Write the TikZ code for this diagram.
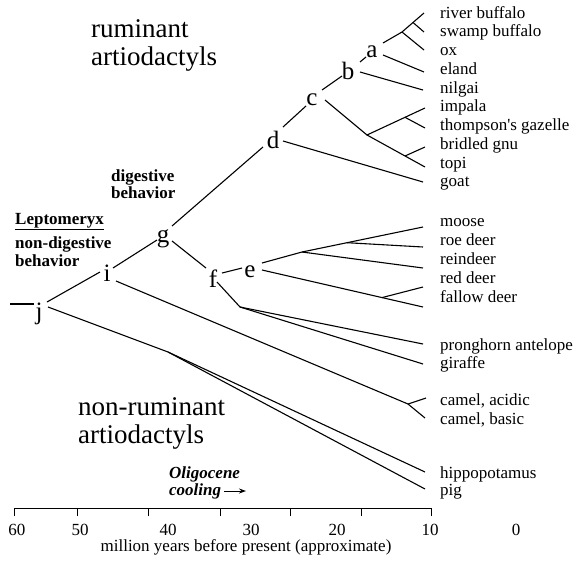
\documentclass[tikz,border=0pt]{standalone}
\usepackage{fontspec}
\setmainfont{Liberation Serif}
\usetikzlibrary{arrows.meta}
\begin{document}
\begin{tikzpicture}[x=1pt,y=-1pt,
  br/.style={line width=1.1pt},
  taxon/.style={anchor=base west, inner sep=0pt, font=\fontsize{17}{19}\selectfont},
  letter/.style={anchor=base, inner sep=0pt, font=\fontsize{25}{27}\selectfont},
  bigtext/.style={anchor=base west, inner sep=0pt, font=\fontsize{27}{29}\selectfont},
  boldnote/.style={anchor=base west, inner sep=0pt, font=\fontsize{17}{19}\selectfont\bfseries},
  ticklab/.style={anchor=base, inner sep=0pt, font=\fontsize{17}{19}\selectfont}]
\fill[white] (0,0) rectangle (584,560);
\useasboundingbox (0,0) rectangle (584,560);

% letters
\node[letter] (j) at (39,319) {j};
\node[letter] (i) at (107,281) {i};
\node[letter] (g) at (163,242) {g};
\node[letter] (f) at (213,287) {f};
\node[letter] (e) at (250,277) {e};
\node[letter] (d) at (273,148) {d};
\node[letter] (c) at (312,105) {c};
\node[letter] (b) at (348,79) {b};
\node[letter] (a) at (372,57) {a};

% junction coordinates
\coordinate (j0) at (10,304); \coordinate (j1) at (34,304);
\coordinate (jU) at (47,302); \coordinate (iL) at (100,272);
\coordinate (jD) at (48,307); \coordinate (hp) at (168,352);
\coordinate (hipT) at (425,472); \coordinate (pigT) at (425,489);
\coordinate (iU) at (113,268); \coordinate (gL) at (157,240);
\coordinate (iD) at (116,281); \coordinate (cm) at (408,404);
\coordinate (caT) at (426,398); \coordinate (cbT) at (425,418);
\coordinate (gU) at (172,226); \coordinate (dL) at (263,147);
\coordinate (gD) at (172,241); \coordinate (fL) at (206,268);
\coordinate (dU) at (283,127); \coordinate (cL) at (306,106);
\coordinate (dD) at (283,141); \coordinate (goatT) at (423,182);
\coordinate (cU) at (322,90); \coordinate (bL) at (342,76);
\coordinate (cD) at (325,100); \coordinate (cg) at (367,135);
\coordinate (it) at (405,117.3); \coordinate (impT) at (425,108); \coordinate (thoT) at (425,128);
\coordinate (bt) at (405,156); \coordinate (topT) at (425,167); \coordinate (brgT) at (425,147);
\coordinate (bU) at (360,62); \coordinate (aL) at (366,57);
\coordinate (bD) at (360,72); \coordinate (nilT) at (423,90);
\coordinate (aU) at (383,43); \coordinate (a1) at (402,32); \coordinate (a2) at (413,22.5);
\coordinate (rbT) at (424,13); \coordinate (sbT) at (424,32); \coordinate (oxT) at (424,50);
\coordinate (aD) at (383,55); \coordinate (elT) at (424,72);
\coordinate (fR) at (222,273); \coordinate (eL) at (242,268);
\coordinate (eU) at (262,263); \coordinate (n1) at (302,252); \coordinate (n2) at (347,242.7);
\coordinate (moT) at (423,227); \coordinate (roT) at (423,247); \coordinate (reT) at (423,268);
\coordinate (eD) at (262,270); \coordinate (n4) at (382,297.6); \coordinate (faT) at (423,307); \coordinate (rdT) at (423,287);
\coordinate (fD) at (217,282); \coordinate (n3) at (240,307); \coordinate (prT) at (423,344); \coordinate (giT) at (423,364);

% branches
\draw[br] (j0) -- (j1);
\draw[br] (jU) -- (iL);
\draw[br] (jD) -- (hp) -- (hipT);
\draw[br] (hp) -- (pigT);
\draw[br] (iU) -- (gL);
\draw[br] (iD) -- (cm) -- (caT);
\draw[br] (cm) -- (cbT);
\draw[br] (gU) -- (dL);
\draw[br] (gD) -- (fL);
\draw[br] (dU) -- (cL);
\draw[br] (dD) -- (goatT);
\draw[br] (cU) -- (bL);
\draw[br] (cD) -- (cg) -- (impT);
\draw[br] (it) -- (thoT);
\draw[br] (cg) -- (topT);
\draw[br] (bt) -- (brgT);
\draw[br] (bU) -- (aL);
\draw[br] (bD) -- (nilT);
\draw[br] (aU) -- (a1) -- (rbT);
\draw[br] (a2) -- (sbT);
\draw[br] (a1) -- (oxT);
\draw[br] (aD) -- (elT);
\draw[br] (fR) -- (eL);
\draw[br] (eU) -- (n1) -- (moT);
\draw[br] (n2) -- (roT);
\draw[br] (n1) -- (reT);
\draw[br] (eD) -- (faT);
\draw[br] (n4) -- (rdT);
\draw[br] (fD) -- (n3) -- (prT);
\draw[br] (n3) -- (giT);

% taxa
\node[taxon] (t1) at (440,18) {river buffalo};
\node[taxon] (t2) at (440,36.8) {swamp buffalo};
\node[taxon] (t3) at (440,55.5) {ox};
\node[taxon] (t4) at (440,74.3) {eland};
\node[taxon] (t5) at (440,93.1) {nilgai};
\node[taxon] (t6) at (440,111.9) {impala};
\node[taxon] (t7) at (440,130.6) {thompson\textquotesingle s gazelle};
\node[taxon] (t8) at (440,149.4) {bridled gnu};
\node[taxon] (t9) at (440,168.2) {topi};
\node[taxon] (t10) at (440,186.9) {goat};
\node[taxon] (t11) at (440,226) {moose};
\node[taxon] (t12) at (440,245) {roe deer};
\node[taxon] (t13) at (440,264) {reindeer};
\node[taxon] (t14) at (440,283) {red deer};
\node[taxon] (t15) at (440,302) {fallow deer};
\node[taxon] (t16) at (440,350) {pronghorn antelope};
\node[taxon] (t17) at (440,368) {giraffe};
\node[taxon] (t18) at (440,405) {camel, acidic};
\node[taxon] (t19) at (440,424) {camel, basic};
\node[taxon] (t20) at (440,478) {hippopotamus};
\node[taxon] (t21) at (440,495) {pig};

% group labels
\node[bigtext] (rum1) at (91,37) {ruminant};
\node[bigtext] (rum2) at (91,65) {artiodactyls};
\node[bigtext] (nrum1) at (78,415) {non-ruminant};
\node[bigtext] (nrum2) at (78,443) {artiodactyls};
\node[boldnote] (dig1) at (111,181) {digestive};
\node[boldnote] (dig2) at (111,198) {behavior};
\node[boldnote] (lep) at (15,224) {\underline{Leptomeryx}};
\node[boldnote] (nd1) at (15,248) {non-digestive};
\node[boldnote] (nd2) at (15,266) {behavior};
\node[boldnote, font=\fontsize{17}{19}\selectfont\bfseries\itshape] (oli1) at (169,478) {Oligocene};
\node[boldnote, font=\fontsize{17}{19}\selectfont\bfseries\itshape] (oli2) at (169,495) {cooling};
\coordinate (arA) at (224,491); \coordinate (arB) at (246,491);
\draw[line width=1pt, -{Stealth[length=7pt,width=5pt]}] (arA) -- (arB);

% axis
\coordinate (ax0) at (14,508); \coordinate (ax1) at (431,508);
\draw[line width=1pt] (ax0) -- (ax1);
\foreach \x in {14,77,148,220,290,361,431} \draw[line width=1pt] (\x,508) -- (\x,516);
\node[ticklab] (l60) at (17,535) {60};
\node[ticklab] (l50) at (80,535) {50};
\node[ticklab] (l40) at (168,535) {40};
\node[ticklab] (l30) at (251,535) {30};
\node[ticklab] (l20) at (337,535) {20};
\node[ticklab] (l10) at (430,535) {10};
\node[ticklab] (l0) at (516,535) {0};
\node[ticklab] (cap) at (246,551) {million years before present (approximate)};
\end{tikzpicture}
\end{document}
